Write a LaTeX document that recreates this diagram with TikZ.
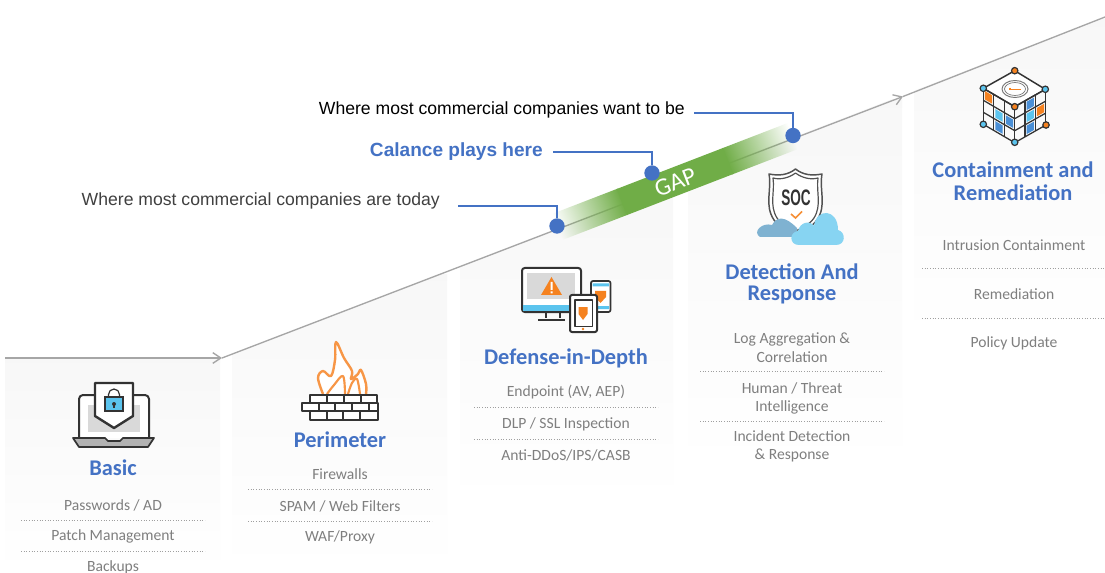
\documentclass[tikz,border=0pt]{standalone}
\usepackage{fontspec}
\usetikzlibrary{arrows.meta,fadings,calc}
\newfontfamily\cardfont{Carlito}
\newfontfamily\armfont{Liberation Sans}
\definecolor{cblue}{HTML}{4472C4}
\definecolor{cgreen}{HTML}{70AD47}
\definecolor{cgrey}{HTML}{A6A6A6}
\definecolor{citem}{HTML}{7F7F7F}
\definecolor{cdark}{HTML}{333333}
\definecolor{corange}{HTML}{F58220}
\definecolor{csky}{HTML}{5BC4EE}
\definecolor{cmid}{HTML}{4A8FD6}
\definecolor{cflame}{HTML}{F79646}
\definecolor{ccloudA}{HTML}{7FB2D1}
\definecolor{ccloudB}{HTML}{87D4F2}
\tikzfading[name=fadeL, left color=transparent!100, right color=transparent!0]
\tikzfading[name=fadeR, left color=transparent!0, right color=transparent!100]
\newcommand{\cellfill}[3]{\fill[#3] (#1+0.15,#2+0.15) -- (#1+0.85,#2+0.15) -- (#1+0.85,#2+0.85) -- (#1+0.15,#2+0.85) -- cycle;}
\newcommand{\facegrid}{%
  \foreach \k in {0,1,2,3}{\draw[icon,line width=0.95pt] (\k,0) -- (\k,3); \draw[icon,line width=0.95pt] (0,\k) -- (3,\k);}}
\tikzset{
  panel/.style={top color=black!3, bottom color=white, draw=none},
  cardtitle/.style={font=\cardfont\bfseries\fontsize{16.8}{17}\selectfont, text=cblue, inner sep=0pt, anchor=center},
  carditem/.style={font=\cardfont\fontsize{11.7}{12}\selectfont, text=citem, inner sep=0pt, anchor=center},
  sep/.style={draw=citem!75, line width=0.7pt, dash pattern=on 0.8pt off 1.2pt},
  callout/.style={font=\armfont\fontsize{13.2}{14}\selectfont, inner sep=0pt, anchor=east},
  leader/.style={draw=cblue, line width=1pt},
  dot/.style={circle, fill=cblue, draw=none, minimum size=11.5pt, inner sep=0pt},
  axisline/.style={draw=cgrey, line width=1pt},
  icon/.style={draw=cdark, line width=1.5pt, line join=round},
  corner/.style={draw=cdark, line width=0.9pt},
}
\begin{document}
\begin{tikzpicture}[x=0.75pt,y=-0.75pt]
\useasboundingbox (0,0) rectangle (1105,573);
\fill[white] (0,0) rectangle (1105,573);
% panels
\begin{scope}
\clip (5,358) -- (222,358) -- (1105,17) -- (1105,573) -- (5,573) -- cycle;
\shade[panel] (5,358) rectangle (220,573);
\shade[panel] (232,275) rectangle (447,573);
\shade[panel] (460,190) rectangle (673,505);
\shade[panel] (688,100) rectangle (902,470);
\shade[panel] (914,20) rectangle (1105,340);
\end{scope}
% axis
\coordinate (a0) at (5,358);
\coordinate (a1) at (222,358);
\coordinate (a2) at (903,96.5);
\coordinate (a3) at (1105,17);
\draw[axisline,-{Straight Barb[length=6pt,width=8pt]}] (a0) -- (a1);
\draw[axisline,-{Straight Barb[length=6pt,width=8pt]}] (a1) -- (a2);
\draw[axisline] (a2) -- (a3);
% GAP band
\begin{scope}[transform canvas={shift={(675,181.5)},rotate=21.1}]
\fill[cgreen,path fading=fadeL] (-126,-14) rectangle (-56,14);
\fill[cgreen] (-57,-14) rectangle (57,14);
\fill[cgreen,path fading=fadeR] (56,-14) rectangle (126,14);
\node[font=\cardfont\fontsize{18.5}{19}\selectfont,text=white,inner sep=0pt] (gap) at (0,1) {GAP};
\end{scope}
% callouts
\node[dot] (d1) at (557,226) {};
\node[dot] (d2) at (652,173) {};
\node[dot] (d3) at (793,135.5) {};
\node[callout,text=black] (t3) at (685,110) {Where most commercial companies want to be};
\node[callout,text=cblue,font=\armfont\bfseries\fontsize{14.3}{15}\selectfont] (t2) at (543,152) {Calance plays here};
\node[callout,text=black!75] (t1) at (440,201) {Where most commercial companies are today};
\coordinate (l3) at (694,113);
\coordinate (l2) at (553,152);
\coordinate (l1) at (458,206);
\draw[leader] (l3) -| (d3);
\draw[leader] (l2) -| (d2);
\draw[leader] (l1) -| (d1);
% Basic
\node[cardtitle] (tb) at (113,468) {Basic};
\node[carditem] (b1) at (113,505) {Passwords / AD};
\node[carditem] (b2) at (113,536.5) {Patch Management};
\node[carditem] (b3) at (113,567) {Backups};
\draw[sep] (21,520) -- (205,520);
\draw[sep] (21,551) -- (205,551);
% Perimeter
\node[cardtitle] (tp) at (340,439.5) {Perimeter};
\node[carditem] (p1) at (340,474) {Firewalls};
\node[carditem] (p2) at (340,506) {SPAM / Web Filters};
\node[carditem] (p3) at (340,537.5) {WAF/Proxy};
\draw[sep] (248,489.5) -- (432,489.5);
\draw[sep] (248,521) -- (432,521);
% Defense
\node[cardtitle] (td) at (566,358) {Defense-in-Depth};
\node[carditem] (e1) at (566,392.5) {Endpoint (AV, AEP)};
\node[carditem] (e2) at (566,424.5) {DLP / SSL Inspection};
\node[carditem] (e3) at (566,455.5) {Anti-DDoS/IPS/CASB};
\draw[sep] (474,407) -- (658,407);
\draw[sep] (474,439) -- (658,439);
% Detection
\node[cardtitle] (tr1) at (792,272) {Detection And};
\node[cardtitle] (tr2) at (792,295) {Response};
\node[carditem] (r1) at (792,339) {Log Aggregation \&};
\node[carditem] (r2) at (792,357.5) {Correlation};
\node[carditem] (r3) at (792,388) {Human / Threat};
\node[carditem] (r4) at (792,407.5) {Intelligence};
\node[carditem] (r5) at (792,436.5) {Incident Detection};
\node[carditem] (r6) at (792,455.5) {\& Response};
\draw[sep] (700,371) -- (884,371);
\draw[sep] (700,421) -- (884,421);
% Containment
\node[cardtitle] (tc1) at (1013,170) {Containment and};
\node[cardtitle] (tc2) at (1013,192.5) {Remediation};
\node[carditem] (c1) at (1014,245) {Intrusion Containment};
\node[carditem] (c2) at (1014,294) {Remediation};
\node[carditem] (c3) at (1014,343) {Policy Update};
\draw[sep] (922,268) -- (1105,268);
\draw[sep] (922,318) -- (1105,318);
% --- Laptop icon
\draw[icon,fill=white,rounded corners=3pt] (79,438) -- (79,395) -- (149,395) -- (149,438);
\fill[black!15] (88,405) rectangle (140,432);
\draw[icon,line width=1.3pt,fill=black!30] (73,438) -- (105,438) -- (108,441) -- (120,441) -- (123,438) -- (154,438) -- (148,447) -- (79,447) -- cycle;
\draw[icon,line width=1.8pt,fill=white] (95,383) -- (133,383) -- (133,416) -- (114,428) -- (95,416) -- cycle;
\draw[cdark,line width=0.9pt] (108.5,397) -- (108.5,394.5) arc[start angle=180,end angle=360,x radius=5.5,y radius=5.5] -- (119.5,397);
\draw[cdark,line width=0.9pt,fill=csky] (105,397) rectangle (123,411);
\fill[cdark] (114,404) circle[radius=2];
\draw[cdark,line width=0.8pt] (114,404) -- (114,408);
% --- Firewall icon
\draw[draw=cflame,line width=1.8pt,fill=white,line join=round]
  plot[smooth,tension=0.6] coordinates {(323,394) (318,378) (323,371) (331,376) (335,360) (336,342) (344,358) (352,371) (351,379) (358,374) (361,370) (366,384) (366,394)};
\draw[draw=cflame,line width=1.6pt,line join=round]
  plot[smooth,tension=0.6] coordinates {(327,394) (334,385) (343,376) (345,394)};
\draw[draw=cflame,line width=1.6pt,line join=round]
  plot[smooth,tension=0.6] coordinates {(348,394) (352,383) (357,379) (360,394)};
\foreach \xa/\xb in {310/327,327/344,344/360.5,360.5/377}{\draw[icon,fill=white] (\xa,394.5) rectangle (\xb,402.5);}
\foreach \xa/\xb in {302/318.5,318.5/335,335/352,352/368.5,368.5/378}{\draw[icon,fill=white] (\xa,402.5) rectangle (\xb,411);}
\foreach \xa/\xb in {310/327,327/343,343/360,360/378}{\draw[icon,fill=white] (\xa,411) rectangle (\xb,420);}
% --- Devices icon
\draw[icon,fill=white,rounded corners=2pt] (522,268) rectangle (581,312);
\fill[black!15] (527,273) rectangle (575,299);
\fill[csky] (523,305) rectangle (580,311);
\draw[icon,line width=1.2pt] (546,312) -- (546,318) (560,312) -- (560,318) (538,320) -- (565,320);
\fill[corange] (541,295) -- (562,295) -- (551.5,277) -- cycle;
\fill[white] (550.5,282) rectangle (552.5,290) (550.5,291.5) rectangle (552.5,293.5);
\draw[icon,line width=1.3pt,fill=white,rounded corners=1.5pt] (591,281) rectangle (610.5,312);
\fill[csky] (592.5,283.5) rectangle (609,286.5) (592.5,306) rectangle (609,309);
\fill[corange] (595,291) -- (606,291) -- (606,297) -- (600.5,303) -- (595,297) -- cycle;
\draw[icon,fill=white,rounded corners=1.5pt] (570,295) rectangle (597,332);
\draw[icon,line width=1pt,fill=white] (575,300) rectangle (592.5,326.5);
\fill[corange] (578.5,307) -- (587.5,307) -- (587.5,314) -- (583,320) -- (578.5,314) -- cycle;
\fill[corange] (583,329) circle[radius=1.3];
% --- SOC icon
\draw[draw=cdark!85,line width=1.1pt,fill=white,line join=round]
 (795.5,169) .. controls (803,175) and (812,176) .. (822,174) .. controls (819,190) and (827,205) .. (817,220) .. controls (811,228) and (803,231) .. (795.5,235) .. controls (788,231) and (780,228) .. (774,220) .. controls (764,205) and (772,190) .. (769,174) .. controls (779,176) and (788,175) .. (795.5,169) -- cycle;
\draw[draw=cdark!85,line width=0.9pt,line join=round]
 (795.5,173) .. controls (802,178) and (811,180) .. (818,178) .. controls (816,192) and (822,205) .. (814,218) .. controls (809,225) and (802,228) .. (795.5,231) .. controls (789,228) and (782,225) .. (777,218) .. controls (769,205) and (775,192) .. (773,178) .. controls (780,180) and (789,178) .. (795.5,173) -- cycle;
\node[font=\armfont\bfseries\fontsize{12}{13}\selectfont,text=cdark,inner sep=0pt,xscale=0.85,yscale=1.4] (soc) at (796,198) {SOC};
\draw[corange!90,line width=1.2pt] (791,214) -- (795.5,218) -- (802,211.5);
\fill[ccloudA] (760,237) -- (797,237) -- (797,228) .. controls (785,216) and (777,216) .. (772,225) .. controls (762,222) and (752,232) .. (760,237) -- cycle;
\fill[ccloudB] (799,245) .. controls (789,245) and (789,232) .. (798,231) .. controls (800,222) and (810,220) .. (814,226) .. controls (816,208) and (838,208) .. (838,230) .. controls (846,232) and (846,245) .. (836,245) -- cycle;
% --- Cube icon
\coordinate (ct) at (1014.7,70.7);
\coordinate (clt) at (983.3,88.3);
\coordinate (crt) at (1045.3,89.3);
\coordinate (cc) at (1014.7,106.7);
\coordinate (clb) at (983.3,124.3);
\coordinate (crb) at (1046,125);
\coordinate (cb) at (1014.7,142.3);
\draw[icon,line width=1.1pt,fill=white] (ct) -- (crt) -- (cc) -- (clt) -- cycle;
\draw[draw=cgrey!70!black,line width=0.7pt] (1015,89) ellipse[x radius=13,y radius=8.5];
\draw[draw=cgrey!70!black,line width=0.5pt] (1015,89) ellipse[x radius=10.5,y radius=6.5];
\draw[corange,line width=1pt] (1010,88) -- (1010,89.5) -- (1021,89.5);
\begin{scope}[shift={(983.3,88.3)},x={(7.85pt,-4.6pt)},y={(0pt,-9pt)}]
\cellfill{0}{0}{corange}
\cellfill{1}{1}{csky}
\cellfill{2}{1}{cmid}
\cellfill{1}{2}{cmid}
\facegrid
\end{scope}
\begin{scope}[shift={(1014.7,106.7)},x={(7.75pt,4.4pt)},y={(0pt,-9pt)}]
\cellfill{1}{0}{cmid}
\cellfill{2}{1}{corange}
\cellfill{1}{1}{csky}
\cellfill{1}{2}{cmid}
\facegrid
\end{scope}
\foreach \p/\c in {ct/corange,clt/csky,crt/csky,cc/corange,clb/csky,crb/corange,cb/csky}{
  \fill[\c] (\p) circle[radius=3.2];
  \draw[corner] (\p) circle[radius=3.2];
}
\end{tikzpicture}
\end{document}
